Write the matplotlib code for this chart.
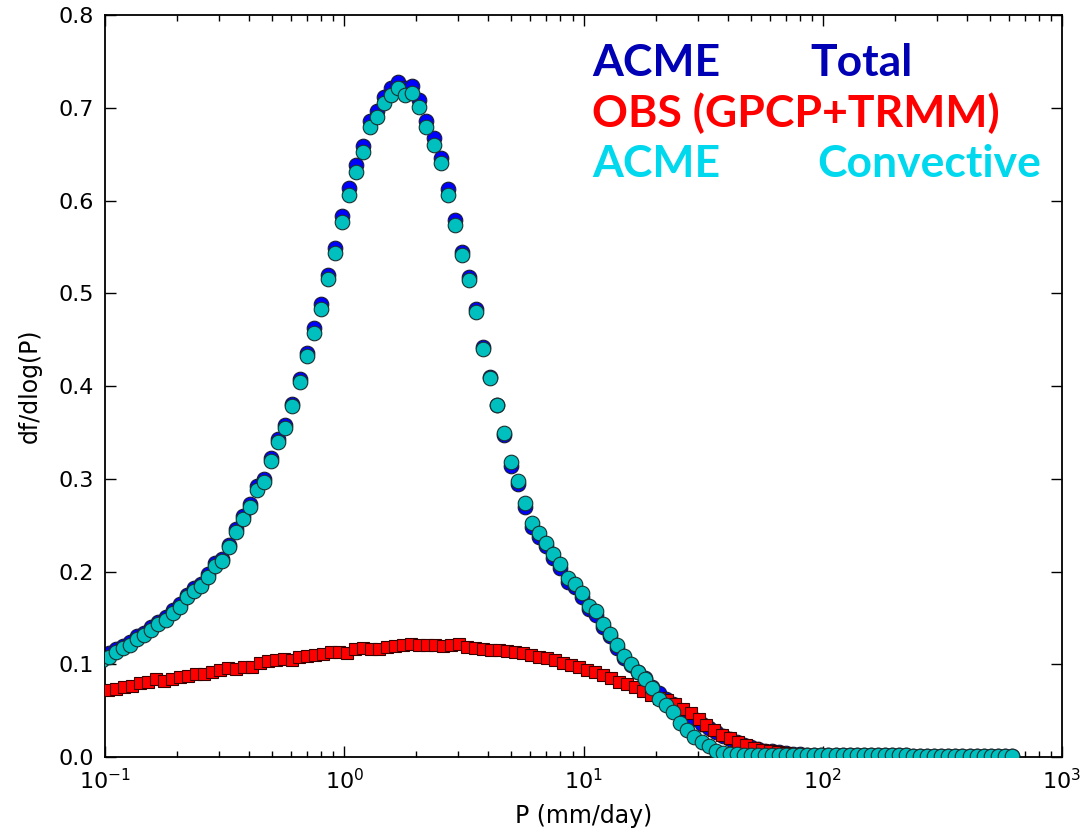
import numpy as np
import matplotlib
matplotlib.use("Agg")
import matplotlib.pyplot as plt

# ——— bins (log spaced, same as the pdf calc) ———
P_MODEL = np.geomspace(0.0972, 617.0, 130)
P_OBS = np.geomspace(0.1029, 560.0, 113)

# ——— ACME convective ———
acme_conv = [
    0.105, 0.108, 0.113, 0.117, 0.121, 0.127, 0.131, 0.137, 0.143, 0.148,
    0.155, 0.162, 0.172, 0.179, 0.184, 0.194, 0.206, 0.211, 0.226, 0.243,
    0.257, 0.270, 0.288, 0.296, 0.319, 0.340, 0.355, 0.378, 0.404, 0.432,
    0.457, 0.483, 0.515, 0.543, 0.577, 0.606, 0.631, 0.652, 0.679, 0.690,
    0.705, 0.714, 0.721, 0.714, 0.716, 0.701, 0.679, 0.660, 0.640, 0.606,
    0.574, 0.541, 0.514, 0.480, 0.440, 0.409, 0.380, 0.349, 0.318, 0.298,
    0.274, 0.252, 0.241, 0.231, 0.219, 0.208, 0.193, 0.187, 0.177, 0.163,
    0.157, 0.143, 0.133, 0.121, 0.109, 0.100, 0.092, 0.084, 0.074, 0.063,
    0.056, 0.049, 0.037, 0.029, 0.022, 0.016, 0.012, 0.007, 0.004, 0.003,
    0.003, 0.002, 0.002, 0.002, 0.002, 0.002, 0.002, 0.002, 0.002, 0.002,
    0.002, 0.002, 0.002, 0.002, 0.002, 0.002, 0.002, 0.002, 0.002, 0.002,
    0.002, 0.002, 0.002, 0.002, 0.002, 0.001, 0.001, 0.001, 0.001, 0.001,
    0.001, 0.001, 0.001, 0.001, 0.001, 0.001, 0.001, 0.001, 0.001, 0.001,
]

# ——— ACME total ———
acme_total = [
    0.109, 0.112, 0.116, 0.120, 0.124, 0.130, 0.134, 0.140, 0.146, 0.151,
    0.158, 0.165, 0.175, 0.182, 0.187, 0.197, 0.209, 0.214, 0.229, 0.246,
    0.260, 0.273, 0.292, 0.300, 0.322, 0.343, 0.358, 0.381, 0.408, 0.436,
    0.462, 0.488, 0.520, 0.549, 0.583, 0.613, 0.638, 0.659, 0.686, 0.697,
    0.712, 0.721, 0.728, 0.721, 0.723, 0.708, 0.686, 0.667, 0.646, 0.612,
    0.579, 0.545, 0.517, 0.483, 0.442, 0.410, 0.380, 0.347, 0.314, 0.294,
    0.270, 0.248, 0.237, 0.227, 0.215, 0.204, 0.189, 0.183, 0.173, 0.160,
    0.153, 0.140, 0.130, 0.118, 0.107, 0.099, 0.092, 0.085, 0.076, 0.069,
    0.063, 0.057, 0.051, 0.046, 0.041, 0.036, 0.031, 0.027, 0.023, 0.019,
    0.016, 0.013, 0.011, 0.009, 0.007, 0.006, 0.005, 0.004, 0.003, 0.003,
    0.002, 0.002, 0.002, 0.002, 0.002, 0.002, 0.002, 0.002, 0.002, 0.002,
    0.002, 0.002, 0.002, 0.002, 0.002, 0.001, 0.001, 0.001, 0.001, 0.001,
    0.001, 0.001, 0.001, 0.001, 0.001, 0.001, 0.001, 0.001, 0.001, 0.001,
]

# ——— OBS (GPCP+TRMM) ———
obs = [
    0.072, 0.073, 0.075, 0.077, 0.080, 0.081, 0.084, 0.082, 0.084, 0.086,
    0.087, 0.089, 0.090, 0.092, 0.094, 0.096, 0.095, 0.097, 0.097, 0.101,
    0.104, 0.105, 0.106, 0.105, 0.108, 0.109, 0.110, 0.111, 0.113, 0.113,
    0.112, 0.116, 0.117, 0.116, 0.116, 0.119, 0.120, 0.121, 0.122, 0.121,
    0.121, 0.121, 0.120, 0.121, 0.122, 0.119, 0.117, 0.116, 0.115, 0.115,
    0.114, 0.113, 0.112, 0.110, 0.108, 0.107, 0.105, 0.101, 0.099, 0.097,
    0.094, 0.092, 0.088, 0.085, 0.081, 0.079, 0.076, 0.071, 0.067, 0.064,
    0.061, 0.057, 0.052, 0.047, 0.041, 0.035, 0.029, 0.024, 0.020, 0.016,
    0.013, 0.010, 0.008, 0.006, 0.005, 0.004, 0.003, 0.003, 0.002, 0.002,
    0.002, 0.002, 0.002, 0.002, 0.002, 0.002, 0.002, 0.002, 0.002, 0.002,
    0.001, 0.001, 0.001, 0.001, 0.001, 0.001, 0.001, 0.001, 0.001, 0.001,
    0.001, 0.001, 0.001,
]

YTICKS = [0.0, 0.1, 0.2, 0.3, 0.4, 0.5, 0.6, 0.7, 0.8]

# ——— plot ———
fig = plt.figure(figsize=(10.88, 8.38), dpi=100)
ax = fig.add_axes([105/1088, 1 - 757/838, 957/1088, 742/838])

ax.plot(P_MODEL, acme_total, 'o', ms=10.5, mfc='#0000ff', mec='#1a1a33', mew=0.8, ls='none', zorder=2)
ax.plot(P_OBS, obs, 's', ms=9, mfc='#ff0000', mec='#3a0000', mew=0.8, ls='none', zorder=3)
ax.plot(P_MODEL, acme_conv, 'o', ms=10.5, mfc='#00bfbf', mec='#1a3030', mew=0.8, ls='none', zorder=4)

ax.set_xscale('log')
ax.set_xlim(0.1, 1000)
ax.set_ylim(0, 0.8)
ax.set_yticks(YTICKS)
ax.set_yticklabels([f"{v:.1f}" for v in YTICKS])
ax.tick_params(which='both', direction='in', top=True, right=True, labelsize=16, pad=8)
ax.tick_params(which='major', length=8, width=1)
ax.tick_params(which='minor', length=4, width=1)
for s in ax.spines.values():
    s.set_linewidth(1.3)

ax.set_xlabel("P (mm/day)", fontsize=17, labelpad=8)
ax.set_ylabel("df/dlog(P)", fontsize=17, labelpad=12)

# legend-ish labels
fam = ['Lato', 'DejaVu Sans']
fs = 32
fig.text(592/1088, 1 - 76/838, "ACME", color='#0000b4', fontsize=fs, fontweight='bold', family=fam, va='baseline')
fig.text(810/1088, 1 - 76/838, "Total", color='#0000b4', fontsize=fs, fontweight='bold', family=fam, va='baseline')
fig.text(592/1088, 1 - 127/838, "OBS (GPCP+TRMM)", color='#ff0000', fontsize=fs, fontweight='bold', family=fam, va='baseline')
fig.text(592/1088, 1 - 177/838, "ACME", color='#00d8ee', fontsize=fs, fontweight='bold', family=fam, va='baseline')
fig.text(817/1088, 1 - 177/838, "Convective", color='#00d8ee', fontsize=fs, fontweight='bold', family=fam, va='baseline')

fig.savefig("out.png", dpi=100)
